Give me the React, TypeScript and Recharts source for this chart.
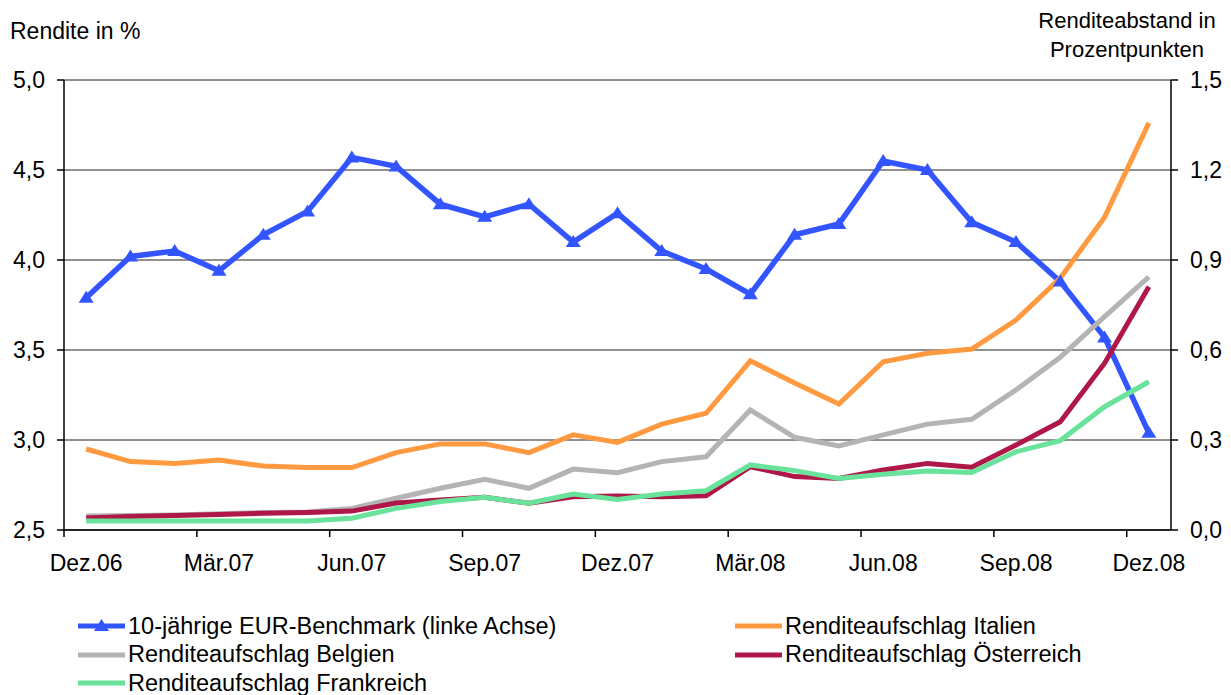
import React from 'react';
import { LineChart, Line, XAxis, YAxis, CartesianGrid, Legend, Label } from 'recharts';

const months = ['Dez.06','Jan.07','Feb.07','Mär.07','Apr.07','Mai.07','Jun.07','Jul.07','Aug.07','Sep.07','Okt.07','Nov.07','Dez.07','Jan.08','Feb.08','Mär.08','Apr.08','Mai.08','Jun.08','Jul.08','Aug.08','Sep.08','Okt.08','Nov.08','Dez.08'];

const benchmark = [3.79,4.02,4.05,3.94,4.14,4.27,4.57,4.52,4.31,4.24,4.31,4.10,4.26,4.05,3.95,3.81,4.14,4.20,4.55,4.50,4.21,4.10,3.88,3.57,3.04];
const italien = [0.27,0.228,0.222,0.233,0.213,0.208,0.208,0.258,0.287,0.287,0.258,0.317,0.292,0.353,0.389,0.564,0.49,0.42,0.561,0.589,0.603,0.70,0.84,1.043,1.357];
const belgien = [0.047,0.048,0.05,0.054,0.058,0.06,0.072,0.106,0.139,0.169,0.139,0.203,0.191,0.228,0.244,0.40,0.309,0.28,0.317,0.353,0.369,0.467,0.576,0.711,0.844];
const oesterreich = [0.04,0.045,0.048,0.052,0.056,0.058,0.063,0.09,0.10,0.109,0.089,0.111,0.113,0.111,0.114,0.211,0.178,0.172,0.20,0.222,0.209,0.283,0.361,0.556,0.811];
const frankreich = [0.03,0.03,0.03,0.03,0.03,0.03,0.039,0.072,0.095,0.109,0.089,0.12,0.102,0.12,0.131,0.217,0.198,0.172,0.186,0.197,0.192,0.261,0.298,0.411,0.494];

const leftTicks = [2.5, 3.0, 3.5, 4.0, 4.5, 5.0];
const rightTicks = [0, 0.3, 0.6, 0.9, 1.2, 1.5];

const seriesDefs = [
  { key: 'benchmark', name: '10-jährige EUR-Benchmark (linke Achse)', color: '#3355FF', axis: 'left', marker: true },
  { key: 'italien', name: 'Renditeaufschlag Italien', color: '#FF9A40', axis: 'right', marker: false },
  { key: 'belgien', name: 'Renditeaufschlag Belgien', color: '#B4B4B4', axis: 'right', marker: false },
  { key: 'oesterreich', name: 'Renditeaufschlag Österreich', color: '#AE1748', axis: 'right', marker: false },
  { key: 'frankreich', name: 'Renditeaufschlag Frankreich', color: '#69E39B', axis: 'right', marker: false },
];

const data = months.map((m, i) => ({
  month: m,
  benchmark: benchmark[i],
  italien: italien[i],
  belgien: belgien[i],
  oesterreich: oesterreich[i],
  frankreich: frankreich[i],
}));

const FONT = '"Liberation Sans", Arial, sans-serif';
const W = 1231;
const H = 695;
const LEFT_W = 64;
const RIGHT_W = 60;
const BAND = (W - LEFT_W - RIGHT_W) / months.length;

const fmt = (v: number) => v.toFixed(1).replace('.', ',');

const XTick = (props: any) => {
  const { x, y, payload } = props;
  return (
    <g>
      <line x1={x - BAND / 2} x2={x - BAND / 2} y1={y} y2={y + 7} stroke="#000" strokeWidth={1.5} />
      <text x={x} y={y + 41} textAnchor="middle" fontSize={23} fontFamily={FONT} fill="#000">{payload.value}</text>
    </g>
  );
};

const LeftTick = (props: any) => {
  const { x, y, payload } = props;
  return (
    <g>
      <line x1={x - 7} x2={x} y1={y} y2={y} stroke="#000" strokeWidth={1.5} />
      <text x={x - 19} y={y + 8} textAnchor="end" fontSize={23} fontFamily={FONT} fill="#000">{fmt(payload.value)}</text>
    </g>
  );
};

const RightTick = (props: any) => {
  const { x, y, payload } = props;
  return (
    <g>
      <line x1={x} x2={x + 7} y1={y} y2={y} stroke="#000" strokeWidth={1.5} />
      <text x={x + 19} y={y + 8} textAnchor="start" fontSize={23} fontFamily={FONT} fill="#000">{fmt(payload.value)}</text>
    </g>
  );
};

const TriangleDot = (props: any) => {
  const { cx, cy, stroke } = props;
  if (cx == null || cy == null) return null;
  return <path d={`M${cx},${cy - 7} L${cx + 7.5},${cy + 5} L${cx - 7.5},${cy + 5} Z`} fill={stroke} stroke="none" />;
};

const LegendContent = () => (
  <div
    style={{
      height: 90,
      boxSizing: 'border-box',
      paddingTop: 7,
      display: 'grid',
      gridTemplateColumns: '657px 450px',
      gridAutoRows: '28.5px',
      paddingLeft: 78,
      fontFamily: FONT,
      fontSize: 23.5,
      color: '#000',
    }}
  >
    {seriesDefs.map((s) => (
      <div key={s.key} style={{ display: 'flex', alignItems: 'center', whiteSpace: 'nowrap' }}>
        <svg width={50} height={20} style={{ flex: 'none' }}>
          <line x1={0} x2={47} y1={10} y2={10} stroke={s.color} strokeWidth={5} />
          {s.marker && <path d="M23.5,3 L31,15 L16,15 Z" fill={s.color} />}
        </svg>
        <span>{s.name}</span>
      </div>
    ))}
  </div>
);

export default function App() {
  return (
    <div style={{ position: 'absolute', left: 0, top: 0, width: W, height: H, background: '#fff' }}>
      <LineChart width={W} height={H} data={data} margin={{ top: 80, right: 0, bottom: 0, left: 0 }}>
        <CartesianGrid yAxisId="left" horizontal vertical={false} stroke="#222" strokeWidth={1} />
        <XAxis
          dataKey="month"
          height={75}
          interval={2}
          padding={{ left: BAND / 2, right: BAND / 2 }}
          tickSize={0}
          tickMargin={0}
          tick={<XTick />}
          axisLine={{ stroke: '#000', strokeWidth: 1.5 }}
          tickLine={false}
        />
        <YAxis
          yAxisId="left"
          orientation="left"
          width={LEFT_W}
          domain={[2.5, 5]}
          ticks={leftTicks}
          tickSize={0}
          tickMargin={0}
          tick={<LeftTick />}
          tickLine={false}
          axisLine={{ stroke: '#000', strokeWidth: 1.5 }}
          interval={0}
        >
          <Label
            content={() => (
              <text x={10} y={39} fontSize={23} fontFamily={FONT} fill="#000">Rendite in %</text>
            )}
          />
        </YAxis>
        <YAxis
          yAxisId="right"
          orientation="right"
          width={RIGHT_W}
          domain={[0, 1.5]}
          ticks={rightTicks}
          tickSize={0}
          tickMargin={0}
          tick={<RightTick />}
          tickLine={false}
          axisLine={{ stroke: '#000', strokeWidth: 1.5 }}
          interval={0}
        >
          <Label
            content={() => (
              <text fontSize={22} fontFamily={FONT} fill="#000" textAnchor="middle">
                <tspan x={1127} y={28}>Renditeabstand in</tspan>
                <tspan x={1127} y={57}>Prozentpunkten</tspan>
              </text>
            )}
          />
        </YAxis>
        {seriesDefs.map((s) => (
          <Line
            key={s.key}
            yAxisId={s.axis}
            type="linear"
            dataKey={s.key}
            name={s.name}
            stroke={s.color}
            strokeWidth={s.marker ? 5.5 : 5}
            dot={s.marker ? <TriangleDot /> : false}
            activeDot={false}
            isAnimationActive={false}
          />
        ))}
        <Legend verticalAlign="bottom" align="left" content={<LegendContent />} wrapperStyle={{ left: 0, width: W }} />
      </LineChart>
    </div>
  );
}
